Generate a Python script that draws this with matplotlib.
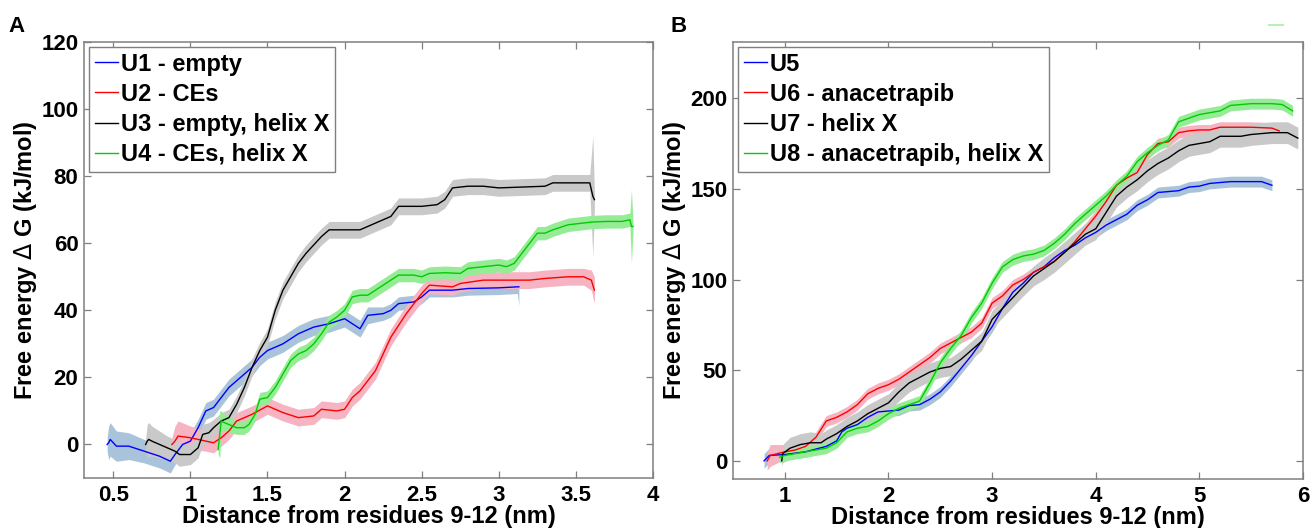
import matplotlib
matplotlib.use("Agg")
import matplotlib.pyplot as plt
from matplotlib.lines import Line2D

# ---------------- data : panel A ----------------
u1_x = [0.46,0.47,0.48,0.52,0.6,0.7,0.8,0.87,0.9,0.95,1.0,1.05,1.1,1.15,1.2,1.25,1.3,1.35,1.4,1.45,1.5,1.6,1.7,1.8,1.9,2.0,2.05,2.1,2.15,2.25,2.3,2.35,2.45,2.5,2.55,2.6,2.7,2.8,3.0,3.12,3.13]
u1_y = [0,0.5,1.5,-0.5,-0.5,-2,-3.5,-5,-3,0,1,5,10,11,14,17,19,21,23,26,28,30,33,35,36,37.5,36,34.5,38.5,39,40,42,42.5,44,46,46,46,46.5,46.7,47,47]
u1_e = [2,5,5,4.5,4,3.5,3.5,3.5,3,3,2.5,2.5,2.5,2.5,2.5,2.5,2.5,2.5,2.5,2.5,2.5,2.5,2.5,2.5,2.5,2.5,2.5,2.5,2.5,2,2,2,2,2,2,2,2,2,2,2,5.5]

u2_x = [0.88,0.9,0.92,1.0,1.1,1.15,1.2,1.25,1.3,1.4,1.5,1.55,1.6,1.7,1.8,1.85,1.95,2.0,2.05,2.1,2.2,2.3,2.4,2.5,2.55,2.7,2.75,2.9,3.2,3.3,3.45,3.55,3.6,3.62]
u2_y = [0,1,2.5,2,1,0.5,2,4,7,9,11.5,10.5,9.5,8,8.5,10.5,10,10.5,14,16,22,32,39,45,47.5,47,48,49,49,49.5,50,50,49,46]
u2_e = [2,4.5,4.5,3.5,3,3,2.5,2.5,2.5,2.5,2.5,2.5,2.5,2.5,2.5,2.5,2.5,2.5,2.5,2.5,2.5,2.5,2.5,2.5,2.5,2.5,2.5,2.5,2.5,2.5,2.5,2.5,3,4]

u3_x = [0.71,0.72,0.73,0.75,0.8,0.85,0.9,0.93,1.0,1.05,1.08,1.12,1.15,1.2,1.25,1.3,1.35,1.4,1.45,1.5,1.55,1.6,1.65,1.7,1.75,1.8,1.85,1.9,2.0,2.1,2.2,2.3,2.35,2.5,2.6,2.65,2.7,2.8,2.9,3.0,3.3,3.35,3.5,3.59,3.61,3.62]
u3_y = [0,1,1.5,1,0,-1,-2,-3,-3,-1,3,3.5,5,7,8,12,17,23,28,32,40,46,50,54,57,59.5,62,64,64,64,66,68,71,71,71.5,73,76.5,77,77,76.5,77,78,78,78,74,73]
u3_e = [2,5,5,4.5,4,3.5,3.5,3.5,3,3,3,3,2.5,2.5,2.5,2.5,2.5,2.5,2.5,2.5,2.5,2.5,2.5,2.5,2.5,2.5,2.5,2.5,2.5,2.5,2.5,2.5,2.5,2.5,2.5,2.5,2.5,2.5,2.5,2.5,2.5,2.5,2.5,2.5,18,2]

u4_x = [1.18,1.19,1.2,1.22,1.3,1.35,1.38,1.42,1.45,1.5,1.55,1.6,1.65,1.7,1.75,1.8,1.85,1.9,1.95,2.0,2.05,2.1,2.15,2.2,2.3,2.35,2.45,2.5,2.55,2.65,2.75,2.8,2.9,3.0,3.05,3.1,3.15,3.2,3.25,3.3,3.35,3.45,3.6,3.7,3.8,3.85,3.86,3.87]
u4_y = [-1.5,3,7,6.5,5,5,6,9,13.5,14,17,21,25,27,28,30,33,36.5,38,40,44,44.5,44.5,46,49,50.5,50.5,50,51,51.2,51,52.5,53,53.5,53,54,57,60,63,63,64,65.5,66.3,66.5,66.5,67,65,65]
u4_e = [1.5,7,3,2.5,2,2,2,2,2,2,2,2,2,2,2,2,2,2,2,2,2,2,2,2,2,2,2,2,2,2,2,2,2,2,2,2,2,2,2,2,2,2,2,2,2,2,11,2]

# ---------------- data : panel B ----------------
u5_x = [0.8,0.85,1.0,1.2,1.4,1.5,1.55,1.6,1.7,1.8,1.9,2.0,2.1,2.2,2.3,2.4,2.5,2.6,2.7,2.8,2.9,3.0,3.1,3.2,3.3,3.4,3.5,3.6,3.7,3.8,3.9,4.0,4.1,4.2,4.3,4.4,4.5,4.6,4.7,4.8,4.9,5.0,5.1,5.3,5.6,5.7]
u5_y = [0,3,3.5,5,8,11,16,18,20,24,27,27.5,28,30.5,31,34,38,44,51,58,66,74,84,93,98,104,107,112,116,119,123,126,130,133,136,141,144,148,148.5,149,151,151.5,153,154,154,152]
u5_e = [4,4,3,3,3,3,3,3,3,3,3,3,3,3,3,3,3,3,3,3,3,3,3,3,3,3,3,3,3,3,3,3,3,3,3,3,3,3,3,3,3,3,3,3,3,3]

u6_x = [0.83,0.86,1.0,1.1,1.2,1.3,1.4,1.5,1.6,1.7,1.8,1.9,2.0,2.1,2.2,2.3,2.4,2.5,2.6,2.7,2.8,2.9,3.0,3.1,3.2,3.3,3.4,3.5,3.6,3.7,3.8,3.9,4.0,4.1,4.2,4.3,4.4,4.5,4.6,4.7,4.8,4.9,5.0,5.1,5.2,5.5,5.7,5.77]
u6_y = [0,3,5,6,8,13,22,24,27,31,37,40,42,45,49,53,57,62,65,68,71,76,87,91,97,100,104,107,110,115,121,128,135,143,152,156,159,169,175,176,181,182,182.5,182.5,184,184,183.5,182]
u6_e = [5,6,4,3,3,3,3,3,3,3,3,3,3,3,3,3,3,3,3,3,3,3,3,3,3,3,3,3,3,3,3,3,3,3,3,3,3,3,3,3,3,3,3,3,3,3,3,3]

u7_x = [0.97,0.98,1.05,1.15,1.25,1.35,1.4,1.5,1.6,1.7,1.8,1.9,2.0,2.1,2.2,2.3,2.4,2.5,2.6,2.7,2.8,2.9,3.0,3.1,3.2,3.3,3.4,3.5,3.6,3.7,3.8,3.9,4.0,4.1,4.2,4.3,4.4,4.5,4.6,4.7,4.8,4.9,5.0,5.1,5.2,5.4,5.5,5.7,5.85,5.95]
u7_y = [0,4,7,9,10,10,12,15,19,22,26,29,32,38,43,46,49,51,52,56,61,66,78,84,90,96,102,106,110,115,120,125,128,137,146,151,155,160,164,167,171,174,175,176,179,179,180,181,181,178]
u7_e = [3,5,6,6,6,5,5,5,5,5,5,5,5,5,5,5,5,5,5,5,5,5,5,5,5,5,5.5,6,6,6,6,6,6,6,6,6,6,6,6,6,6,6,6,6,6,6,6,6,6,6]

u8_x = [0.95,1.0,1.2,1.4,1.5,1.6,1.7,1.8,1.9,2.0,2.1,2.2,2.3,2.4,2.5,2.6,2.7,2.8,2.9,3.0,3.1,3.2,3.3,3.4,3.5,3.6,3.7,3.8,3.9,4.0,4.1,4.2,4.3,4.4,4.5,4.6,4.7,4.8,4.9,5.0,5.1,5.2,5.3,5.5,5.7,5.8,5.9]
u8_y = [2,3,5,7,10,16,18,19,22,26,29,31,33,43,54,62,69,79,87,98,107,111,113,114,116,120,125,131,136,141,146,152,157,165,170,174,177,187,189,191,192,193,196,197,197,196.5,193]
u8_e = [3]*47

labels_a = ["U1 - empty", "U2 - CEs", "U3 - empty, helix X", "U4 - CEs, helix X"]
labels_b = ["U5", "U6 - anacetrapib", "U7 - helix X", "U8 - anacetrapib, helix X"]
xticks_a = [0.5, 1, 1.5, 2, 2.5, 3, 3.5, 4]
xticklabels_a = ["0.5", "1", "1.5", "2", "2.5", "3", "3.5", "4"]
yticks_a = [0, 20, 40, 60, 80, 100, 120]
xticks_b = [1, 2, 3, 4, 5, 6]
yticks_b = [0, 50, 100, 150, 200]

line_colors = ["#0000ff", "#ff0000", "#000000", "#00cc00"]
band_colors = ["#a9c3da", "#f6b3c1", "#c9c9c9", "#96ec96"]

FONT = "Liberation Sans"
plt.rcParams["font.family"] = [FONT, "DejaVu Sans"]
plt.rcParams["mathtext.fontset"] = "dejavusans"

W, H = 1311, 528
fig = plt.figure(figsize=(W / 100, H / 100), dpi=100)

def px_axes(l, t, r, b):
    return fig.add_axes([l / W, 1 - b / H, (r - l) / W, (b - t) / H])

axA = px_axes(84, 42, 653, 478)
axB = px_axes(733, 42, 1303, 479)

def draw(ax, series, labels):
    for (x, y, e), bc in zip(series, band_colors):
        lo = [a - b for a, b in zip(y, e)]
        hi = [a + b for a, b in zip(y, e)]
        ax.fill_between(x, lo, hi, color=bc, lw=0, zorder=1)
    for (x, y, e), lc, lab in zip(series, line_colors, labels):
        ax.plot(x, y, color=lc, lw=1.0, zorder=2, label=lab)
    for s in ax.spines.values():
        s.set_color("#7f7f7f")
        s.set_linewidth(1.1)
    ax.tick_params(direction="in", top=True, right=True, length=5, width=0.9,
                   color="#7f7f7f", labelsize=16)
    ax.tick_params(axis="x", pad=5)
    ax.tick_params(axis="y", pad=4)
    ax.set_xlabel("Distance from residues 9-12 (nm)", fontsize=17, fontweight="bold", labelpad=-1)
    ax.set_ylabel("Free energy $\\Delta$ G (kJ/mol)", fontsize=17, fontweight="bold", labelpad=2)
    leg = ax.legend(loc="upper left", borderaxespad=0.2,
                    prop={"weight": "bold", "size": 17, "family": FONT},
                    handlelength=1.0, handletextpad=0.1, labelspacing=0.3,
                    borderpad=0.25, fancybox=False, framealpha=1)
    leg.get_frame().set_edgecolor("#7f7f7f")
    leg.get_frame().set_linewidth(1.0)
    return ax

draw(axA, [(u1_x, u1_y, u1_e), (u2_x, u2_y, u2_e), (u3_x, u3_y, u3_e), (u4_x, u4_y, u4_e)], labels_a)
axA.set_xlim(0.31, 4)
axA.set_ylim(-10, 120)
axA.set_xticks(xticks_a)
axA.set_xticklabels(xticklabels_a, fontweight="bold")
axA.set_yticks(yticks_a)
axA.set_yticklabels([str(v) for v in yticks_a], fontweight="bold")

draw(axB, [(u5_x, u5_y, u5_e), (u6_x, u6_y, u6_e), (u7_x, u7_y, u7_e), (u8_x, u8_y, u8_e)], labels_b)
axB.set_xlim(0.5, 6)
axB.set_ylim(-10, 231)
axB.set_xticks(xticks_b)
axB.set_xticklabels([str(v) for v in xticks_b], fontweight="bold")
axB.set_yticks(yticks_b)
axB.set_yticklabels([str(v) for v in yticks_b], fontweight="bold")

fig.text(8 / W, 1 - 32 / H, "A", fontsize=16, fontweight="bold", ha="left", va="baseline")
fig.text(671 / W, 1 - 32 / H, "B", fontsize=16, fontweight="bold", ha="left", va="baseline")
# small stray green mark at top right of panel B
fig.add_artist(Line2D([1269 / W, 1283 / W], [1 - 25 / H, 1 - 25 / H], color="#b8f0b8", lw=1.5))

fig.savefig("out.png", dpi=100)
